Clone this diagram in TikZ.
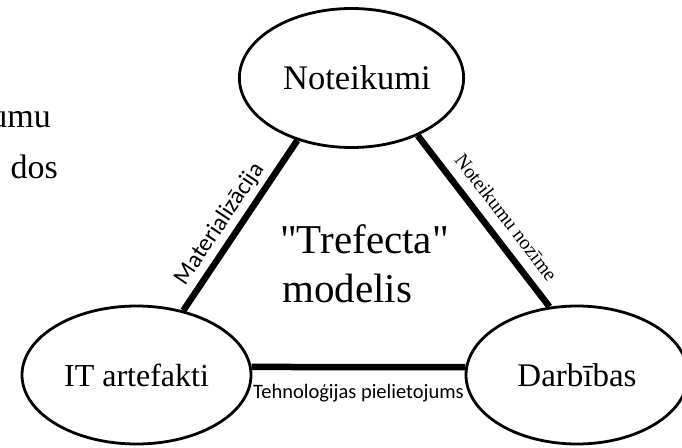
\documentclass[tikz,border=0pt]{standalone}
\usepackage{fontspec}
\setmainfont{Liberation Serif}[Ligatures=TeXOff]
\newfontfamily\labfont{Carlito}
\usetikzlibrary{shapes.geometric}
\begin{document}
\begin{tikzpicture}[x=1pt,y=-1pt,
  bubble/.style={ellipse, draw=black, line width=2.8pt, inner sep=0pt, fill=white},
  conn/.style={line width=6.5pt, black},
  lab/.style={inner sep=0pt, font=\labfont\fontsize{20.5}{24}\selectfont},
  slab/.style={inner sep=0pt, font=\fontsize{20}{24}\selectfont}
]
\clip (0,0) rectangle (682,447);
\fill[white] (0,0) rectangle (682,447);
% margin fragments
\node[anchor=base east, inner sep=0pt, font=\fontsize{34}{40}\selectfont] (frag1) at (51,127) {umu};
\node[anchor=base east, inner sep=0pt, font=\fontsize{34}{40}\selectfont] (frag2) at (58,178) {dos};
% ellipses
\node[bubble, minimum width=211pt, minimum height=139pt, font=\fontsize{34.5}{40}\selectfont] (not) at (351.5,78) {\hspace*{11pt}Noteikumi};
\node[bubble, minimum width=229pt, minimum height=138pt, font=\fontsize{32}{38}\selectfont] (it) at (136.5,375) {IT artefakti};
\node[bubble, minimum width=222pt, minimum height=138pt, font=\fontsize{33}{38}\selectfont] (dar) at (577,375) {Darbības};
% connectors
\draw[conn] (it.54.7) -- node[lab, font=\labfont\fontsize{24}{28}\selectfont, sloped, above=4pt, pos=0.45] {Materializācija} (not.-131.4);
\draw[conn] (not.-41.5) -- node[slab, sloped, above=10pt, pos=0.55] {Noteikumu nozīme} (dar.112.5);
\draw[conn] (it.4) -- node[lab, below=14pt] {Tehnoloģijas pielietojums} (dar.176);
% centre text
\node[anchor=base west, inner sep=0pt, font=\fontsize{41}{49}\selectfont] (t1) at (280,253) {"Trefecta"};
\node[anchor=base west, inner sep=0pt, font=\fontsize{41}{49}\selectfont] (t2) at (282,302) {modelis};
\end{tikzpicture}
\end{document}
